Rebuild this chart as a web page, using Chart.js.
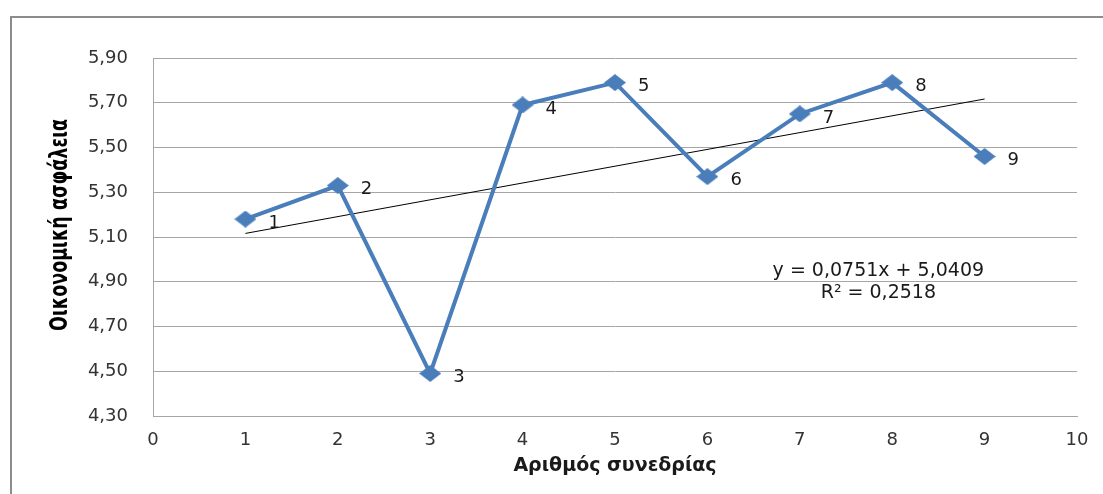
<!DOCTYPE html>
<html>
<head>
<meta charset="utf-8">
<script src="https://cdn.jsdelivr.net/npm/chart.js@4.4.1/dist/chart.umd.min.js"></script>
<style>
    html, body { margin: 0; padding: 0; background: #ffffff; }
    #wrap { position: relative; width: 1103px; height: 494px; overflow: hidden; }
    #frame { position: absolute; left: 10px; top: 16px; width: 1200px; height: 600px;
             border-left: 2px solid #8c8c8c; border-top: 2px solid #8c8c8c; }
    #sessionChart { position: absolute; left: 0; top: 0; }
</style>
</head>
<body>
<div id="wrap">
    <div id="frame"></div>
    <canvas id="sessionChart" width="1103" height="494"></canvas>
</div>
<script>
// sessions and financial security score per session
const sessions = [1, 2, 3, 4, 5, 6, 7, 8, 9];
const securityScores = [5.18, 5.33, 4.49, 5.69, 5.79, 5.37, 5.65, 5.79, 5.46];

// linear trend as printed on the chart
const trendSlope = 0.0751;
const trendIntercept = 5.0409;
const trendR2 = 0.2518;
const trendRange = [1, 9];

const yTicks = { min: 4.3, max: 5.9, step: 0.2 };
const xTicks = { min: 0, max: 10, step: 1 };

const yTitle = 'Οικονομική ασφάλεια';
const xTitle = 'Αριθμός συνεδρίας';

const blue = '#4a7ebb';
const gridGrey = '#a6a6a6';
const labelFont = 'DejaVu Sans';

function commaNum(v, digits) {
    return v.toFixed(digits).replace('.', ',');
}

// squashed diamond marker
function diamond(w, h, color) {
    const c = document.createElement('canvas');
    c.width = w; c.height = h;
    const g = c.getContext('2d');
    g.fillStyle = color;
    g.beginPath();
    g.moveTo(w / 2, 0);
    g.lineTo(w, h / 2);
    g.lineTo(w / 2, h);
    g.lineTo(0, h / 2);
    g.closePath();
    g.fill();
    return c;
}

const pointLabels = {
    id: 'pointLabels',
    afterDatasetsDraw(chart) {
        const ctx = chart.ctx;
        const meta = chart.getDatasetMeta(0);
        ctx.save();
        ctx.font = '18px "' + labelFont + '"';
        ctx.fillStyle = '#1a1a1a';
        ctx.textAlign = 'left';
        ctx.textBaseline = 'middle';
        meta.data.forEach((pt, i) => {
            ctx.fillText(String(sessions[i]), pt.x + 23, pt.y + 4);
        });
        ctx.restore();
    }
};

const trendText = {
    id: 'trendText',
    afterDatasetsDraw(chart) {
        const { ctx, scales: { x, y } } = chart;
        const cx = x.getPixelForValue(7.85);
        ctx.save();
        ctx.font = '19px "' + labelFont + '"';
        ctx.fillStyle = '#1a1a1a';
        ctx.textAlign = 'center';
        ctx.textBaseline = 'middle';
        ctx.fillText('y = ' + commaNum(trendSlope, 4) + 'x + ' + commaNum(trendIntercept, 4), cx, y.getPixelForValue(4.95));
        ctx.fillText('R² = ' + commaNum(trendR2, 4), cx, y.getPixelForValue(4.85));
        ctx.restore();
    }
};

// vertical axis title, bold and narrowed to a fixed length
const yAxisTitle = {
    id: 'yAxisTitle',
    afterDraw(chart) {
        const ctx = chart.ctx;
        ctx.save();
        ctx.font = 'bold 24px "' + labelFont + '"';
        const w = ctx.measureText(yTitle).width;
        ctx.translate(61, 225);
        ctx.rotate(-Math.PI / 2);
        ctx.scale(212 / w, 1);
        ctx.fillStyle = '#000000';
        ctx.textAlign = 'center';
        ctx.textBaseline = 'middle';
        ctx.fillText(yTitle, 0, 0);
        ctx.restore();
    }
};

new Chart(document.getElementById('sessionChart'), {
    type: 'scatter',
    data: {
        datasets: [
            {
                label: yTitle,
                data: sessions.map((s, i) => ({ x: s, y: securityScores[i] })),
                showLine: true,
                borderColor: blue,
                borderWidth: 4,
                pointStyle: diamond(22, 17, blue),
                order: 1
            },
            {
                label: 'Γραμμική τάση',
                data: trendRange.map(x => ({ x: x, y: trendSlope * x + trendIntercept })),
                showLine: true,
                borderColor: '#000000',
                borderWidth: 1,
                pointRadius: 0,
                order: 2
            }
        ]
    },
    options: {
        responsive: false,
        animation: false,
        layout: { padding: { left: 0, top: 58, right: 26, bottom: 0 } },
        plugins: {
            legend: { display: false },
            tooltip: { enabled: false }
        },
        scales: {
            x: {
                type: 'linear',
                min: xTicks.min,
                max: xTicks.max,
                afterFit(scale) { scale.height = 78; },
                grid: { display: false, drawTicks: false },
                border: { color: gridGrey, width: 1 },
                ticks: {
                    stepSize: xTicks.step,
                    padding: 14,
                    color: '#333333',
                    font: { family: labelFont, size: 18 }
                },
                title: {
                    display: true,
                    text: xTitle,
                    color: '#1a1a1a',
                    font: { family: labelFont, size: 19, weight: 'bold' },
                    padding: { top: 0, bottom: 17 }
                }
            },
            y: {
                min: yTicks.min,
                max: yTicks.max,
                afterFit(scale) { scale.width = 153; },
                grid: { color: gridGrey, lineWidth: 1, drawTicks: false },
                border: { color: gridGrey, width: 1 },
                ticks: {
                    stepSize: yTicks.step,
                    padding: 25,
                    color: '#333333',
                    font: { family: labelFont, size: 18 },
                    callback: v => commaNum(v, 2)
                }
            }
        }
    },
    plugins: [pointLabels, trendText, yAxisTitle]
});
</script>
</body>
</html>
